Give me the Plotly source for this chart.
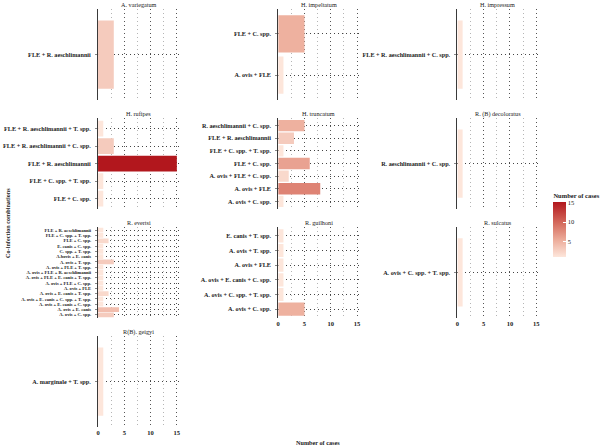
import plotly.graph_objects as go

# ---------------- data ----------------
facet_names = ["A. variegatum", "H. impeltatum", "H. impressum",
               "H. rufipes", "H. truncatum", "R. (B) decoloratus",
               "R. evertsi", "R. guilhoni", "R. sulcatus", "R(B). geigyi"]

a_variegatum_combos = ["FLE + R. aeschlimannii"]
a_variegatum_cases = [3]

h_impeltatum_combos = ["A. ovis + FLE", "FLE + C. spp."]
h_impeltatum_cases = [1, 5]

h_impressum_combos = ["FLE + R. aeschlimannii + C. spp."]
h_impressum_cases = [1]

h_rufipes_combos = ["FLE + C. spp.", "FLE + C. spp. + T. spp.", "FLE + R. aeschlimannii",
                    "FLE + R. aeschlimannii + C. spp.", "FLE + R. aeschlimannii + T. spp."]
h_rufipes_cases = [1, 1, 15, 3, 1]

h_truncatum_combos = ["A. ovis + C. spp.", "A. ovis + FLE", "A. ovis + FLE + C. spp.",
                      "FLE + C. spp.", "FLE + C. spp. + T. spp.", "FLE + R. aeschlimannii",
                      "R. aeschlimannii + C. spp."]
h_truncatum_cases = [1, 8, 2, 6, 1, 3, 5]

r_decoloratus_combos = ["R. aeschlimannii + C. spp."]
r_decoloratus_cases = [1]

r_evertsi_combos = ["A. ovis + C. spp.", "A. ovis + E. canis", "A. ovis + E. canis + C. spp.",
                    "A. ovis + E. canis + C. spp. + T. spp.", "A. ovis + E. canis + T. spp.",
                    "A. ovis + FLE", "A. ovis + FLE + C. spp.", "A. ovis + FLE + E. canis + T. spp.",
                    "A. ovis + FLE + R. aeschlimannii", "A. ovis + FLE + T. spp.",
                    "A. ovis + T. spp.", "A.bovis + E. canis", "C. spp. + T. spp.",
                    "E. canis + C. spp.", "FLE + C. spp.", "FLE + C. spp. + T. spp.",
                    "FLE + R. aeschlimannii"]
r_evertsi_cases = [3, 4, 1, 1, 2, 1, 1, 1, 1, 1, 3, 1, 1, 1, 2, 1, 1]

r_guilhoni_combos = ["A. ovis + C. spp.", "A. ovis + C. spp. + T. spp.", "A. ovis + E. canis + C. spp.",
                     "A. ovis + FLE", "A. ovis + T. spp.", "E. canis + T. spp."]
r_guilhoni_cases = [5, 1, 1, 1, 1, 1]

r_sulcatus_combos = ["A. ovis + C. spp. + T. spp."]
r_sulcatus_cases = [1]

r_geigyi_combos = ["A. marginale + T. spp."]
r_geigyi_cases = [1]

facet_combos = [a_variegatum_combos, h_impeltatum_combos, h_impressum_combos,
                h_rufipes_combos, h_truncatum_combos, r_decoloratus_combos,
                r_evertsi_combos, r_guilhoni_combos, r_sulcatus_combos, r_geigyi_combos]
facet_cases = [a_variegatum_cases, h_impeltatum_cases, h_impressum_cases,
               h_rufipes_cases, h_truncatum_cases, r_decoloratus_cases,
               r_evertsi_cases, r_guilhoni_cases, r_sulcatus_cases, r_geigyi_cases]

x_ticks = [0, 5, 10, 15]

# ---------------- layout geometry ----------------
W, H = 600, 446
col_x0 = [97, 279, 460]
panel_w = 82
row_top = [9, 118, 227, 336]
panel_h = 91
x_max = 15.45
bottom_facets = {7, 8, 9}
FONT = "Liberation Serif"
TXT = "#1a1a1a"

fig = go.Figure()
layout = dict(
    width=W, height=H,
    margin=dict(l=0, r=0, t=0, b=0),
    paper_bgcolor="white", plot_bgcolor="white",
    showlegend=False,
    font=dict(family=FONT, color=TXT, size=6.5),
    coloraxis=dict(
        cmin=1, cmax=15,
        colorscale=[[0, "#FDE6DB"], [0.3, "#EDAE9C"], [0.6, "#D66E60"], [1, "#B2171D"]],
        colorbar=dict(
            title=dict(text="<b>Number of cases</b>", side="top",
                       font=dict(family=FONT, size=6.5, color=TXT)),
            x=557 / W, xanchor="left", y=1 - 224 / H, yanchor="middle",
            thicknessmode="pixels", thickness=13, lenmode="pixels", len=67,
            tickvals=[5, 10, 15], ticks="inside", ticklen=3, tickcolor="white",
            tickfont=dict(family=FONT, size=6.5, color=TXT),
            outlinewidth=0, xpad=0, ypad=0,
        ),
    ),
    annotations=[],
)

for i, (name, combos, cases) in enumerate(zip(facet_names, facet_combos, facet_cases)):
    r, c = divmod(i, 3)
    n = i + 1
    xa = "x" if n == 1 else f"x{n}"
    ya = "y" if n == 1 else f"y{n}"
    x0 = col_x0[c]
    top = row_top[r]
    fig.add_trace(go.Bar(
        x=cases, y=combos, orientation="h", width=0.9,
        marker=dict(color=cases, coloraxis="coloraxis", line=dict(width=0)),
        xaxis=xa, yaxis=ya, hoverinfo="x+y",
    ))
    small = (name == "R. evertsi")
    layout[f"xaxis{'' if n == 1 else n}"] = dict(
        domain=[x0 / W, (x0 + panel_w) / W], anchor=ya,
        range=[0, x_max], tickmode="array", tickvals=x_ticks,
        showticklabels=(i in bottom_facets),
        tickfont=dict(family=FONT, size=6.5, color=TXT, weight="bold"),
        showgrid=True, gridcolor="#555", griddash="1px,3px", gridwidth=1,
        minor=dict(dtick=2.5, tick0=0, showgrid=True, gridcolor="#b5b5b5",
                   griddash="1px,3px", gridwidth=1),
        zeroline=False, showline=False, ticks="",
    )
    layout[f"yaxis{'' if n == 1 else n}"] = dict(
        domain=[1 - (top + panel_h) / H, 1 - top / H], anchor=xa,
        type="category", categoryorder="array", categoryarray=combos,
        tickmode="array", tickvals=combos, ticktext=combos,
        range=[-0.6, len(combos) - 1 + 0.6],
        tickfont=dict(family=FONT, size=4.6 if small else 6.2, color=TXT, weight="bold"),
        showgrid=True, gridcolor="#444", griddash="1px,3px", gridwidth=1,
        showline=True, linecolor="#3a3a3a", linewidth=1,
        ticks="outside", ticklen=2, tickcolor="#888", tickwidth=0.6,
        ticklabelstandoff=3,
        zeroline=False,
    )
    layout["annotations"].append(dict(
        text=name, x=(x0 + panel_w / 2) / W, y=1 - (top - 4.5) / H,
        xref="paper", yref="paper", xanchor="center", yanchor="middle",
        showarrow=False, font=dict(family=FONT, size=6.2, color=TXT),
    ))

layout["annotations"].append(dict(
    text="<b>Number of cases</b>", x=319 / W, y=1 - 442 / H,
    xref="paper", yref="paper", xanchor="center", yanchor="middle",
    showarrow=False, font=dict(family=FONT, size=6.2, color=TXT),
))
layout["annotations"].append(dict(
    text="<b>Co-infection combinations</b>", x=5 / W, y=1 - 223 / H, textangle=-90,
    xref="paper", yref="paper", xanchor="center", yanchor="middle",
    showarrow=False, font=dict(family=FONT, size=6.2, color=TXT),
))

fig.update_layout(**layout)
fig.write_html("out.html")
